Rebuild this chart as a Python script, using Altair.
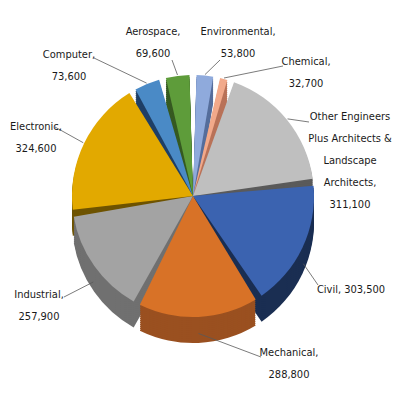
import math
import altair as alt
import pandas as pd

# ---- data ----
categories = ["Environmental", "Chemical",
              "Other Engineers Plus Architects & Landscape Architects",
              "Civil", "Mechanical", "Industrial", "Electronic",
              "Computer", "Aerospace"]
values = [53800, 32700, 311100, 303500, 288800, 257900, 324600, 73600, 69600]
value_labels = ["53,800", "32,700", "311,100", "303,500", "288,800",
                "257,900", "324,600", "73,600", "69,600"]

# ---- styles ----
top_colors = ["#8FAADC", "#F2A98A", "#BFBFBF", "#3B63B0", "#D87227",
              "#A3A3A3", "#E2A900", "#4A8AC6", "#5E9C3A"]
side_colors = ["#566E9C", "#B97258", "#5A5A5A", "#1A2E52", "#9A5020",
               "#707070", "#6E5300", "#1F3F66", "#365A22"]

# label text lines and layout (annotation positions, plot px)
label_lines = [
    ["Environmental,", "53,800"],
    ["Chemical,", "32,700"],
    ["Other Engineers", "Plus Architects &", "Landscape", "Architects,", "311,100"],
    ["Civil, 303,500"],
    ["Mechanical,", "288,800"],
    ["Industrial,", "257,900"],
    ["Electronic,", "324,600"],
    ["Computer,", "73,600"],
    ["Aerospace,", "69,600"],
]
label_xy = [(230, 18), (298, 48), (342, 103), (343, 276), (281, 339),
            (31, 281), (28, 113), (61, 41), (145, 18)]
leader_start = [(212, 52), (275, 58), (301, 114), (310, 277), (253, 349),
                (56, 289), (47, 119), (86, 50), (164, 52)]

CX, CY, R, DEPTH = 185, 188, 121, 26
PAD = 0.058

df = pd.DataFrame({
    "category": categories,
    "value": values,
    "idx": list(range(len(values))),
    "top": top_colors,
    "side": side_colors,
})

# leader line end points on the slice edges, from the slice mid angles
total = sum(values)
cum = 0
ends = []
for i, v in enumerate(values):
    mid = (cum + v / 2) / total * 2 * math.pi
    cum += v
    ex = CX + (R + 1) * math.sin(mid)
    ey = CY - (R + 1) * math.cos(mid)
    if math.cos(mid) < 0:  # front slices: point on the side wall
        ey += DEPTH * 0.6
    ends.append((ex, ey))

lab = pd.DataFrame({
    "text": label_lines,
    "lx": [p[0] for p in label_xy],
    "ly": [p[1] for p in label_xy],
    "sx": [p[0] for p in leader_start],
    "sy": [p[1] for p in leader_start],
    "ex": [p[0] for p in ends],
    "ey": [p[1] for p in ends],
})

base = alt.Chart(df)

layers = []
for k in range(DEPTH, 0, -2):
    layers.append(
        base.mark_arc(radius=R, padAngle=PAD).encode(
            theta=alt.Theta("value:Q", stack=True),
            order=alt.Order("idx:Q"),
            color=alt.Color("side:N", scale=None),
            x=alt.value(CX),
            y=alt.value(CY + k),
        )
    )
layers.append(
    base.mark_arc(radius=R, padAngle=PAD).encode(
        theta=alt.Theta("value:Q", stack=True),
        order=alt.Order("idx:Q"),
        color=alt.Color("top:N", scale=None),
        x=alt.value(CX),
        y=alt.value(CY),
    )
)

lb = alt.Chart(lab)
leaders = lb.mark_rule(color="#595959", strokeWidth=0.8).encode(
    x=alt.X("sx:Q", scale=None),
    y=alt.Y("sy:Q", scale=None),
    x2="ex:Q",
    y2="ey:Q",
)
texts = lb.mark_text(
    font="DejaVu Sans Condensed",
    fontSize=11, lineHeight=22, align="center", baseline="top",
    color="#1a1a1a",
).encode(
    x=alt.X("lx:Q", scale=None),
    y=alt.Y("ly:Q", scale=None),
    text="text",
)

chart = alt.layer(*layers, leaders, texts).properties(
    width=384, height=384,
    autosize=alt.AutoSizeParams(type="none"),
    padding=0,
    background="white",
).configure_view(strokeWidth=0)

chart.save("out.html", embed_options={"renderer": "svg", "actions": False})
